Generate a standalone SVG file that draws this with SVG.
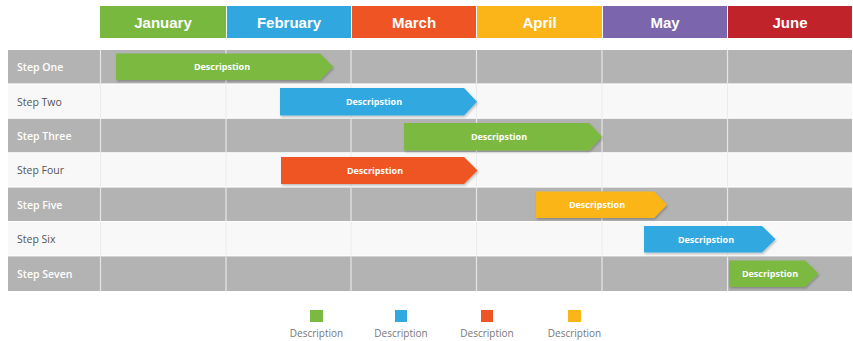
<svg xmlns="http://www.w3.org/2000/svg" width="853" height="341" viewBox="0 0 853 341">
<defs>
<style>
.hdr{font-family:"Liberation Sans",Arial,sans-serif;font-weight:bold;font-size:15px;fill:#fff;text-anchor:middle}
.lbl{font-family:"Open Sans","Noto Sans",sans-serif;font-size:10.5px}
.lblD{fill:#fff;font-weight:600}
.lblL{fill:#555}
.bt{font-family:"Open Sans","Noto Sans",sans-serif;font-size:9px;font-weight:bold;fill:#fff;text-anchor:middle}
.lg{font-family:"Open Sans","Noto Sans",sans-serif;font-size:10px;fill:#777;text-anchor:middle}
.gray{fill:#b3b3b3}
.light{fill:#f8f8f8}
.vd{stroke:#e6e6e6;stroke-width:1.2}
.vl{stroke:#ebebeb;stroke-width:1}
</style>
<filter id="sh" x="-5%" y="-20%" width="110%" height="150%">
<feDropShadow dx="1" dy="1.5" stdDeviation="1" flood-color="#000" flood-opacity="0.25"/>
</filter>
</defs>
<rect width="853" height="341" fill="#fff"/>

<g id="header">
<rect x="100" y="6" width="126" height="32" fill="#78b83f"/>
<rect x="227" y="6" width="124" height="32" fill="#31a7df"/>
<rect x="352" y="6" width="124" height="32" fill="#ee5424"/>
<rect x="477" y="6" width="125" height="32" fill="#fcb518"/>
<rect x="603" y="6" width="124" height="32" fill="#7b66ad"/>
<rect x="728" y="6" width="124" height="32" fill="#c1232a"/>
<text class="hdr" x="163" y="28">January</text>
<text class="hdr" x="289" y="28">February</text>
<text class="hdr" x="414" y="28">March</text>
<text class="hdr" x="539.5" y="28">April</text>
<text class="hdr" x="665" y="28">May</text>
<text class="hdr" x="790" y="28">June</text>
</g>

<g id="grid">
<rect class="gray" x="8" y="50" width="844" height="33.4"/>
<rect class="light" x="8" y="84.4" width="844" height="33.4"/>
<rect class="gray" x="8" y="118.8" width="844" height="33.4"/>
<rect class="light" x="8" y="153.2" width="844" height="33.4"/>
<rect class="gray" x="8" y="187.6" width="844" height="33.4"/>
<rect class="light" x="8" y="222" width="844" height="33.4"/>
<rect class="gray" x="8" y="256.4" width="844" height="34.6"/>
<g class="vd">
<path d="M100.5 50V83.4M226 50V83.4M351 50V83.4M476.5 50V83.4M602 50V83.4M727.5 50V83.4"/>
<path d="M100.5 118.8V152.2M226 118.8V152.2M351 118.8V152.2M476.5 118.8V152.2M602 118.8V152.2M727.5 118.8V152.2"/>
<path d="M100.5 187.6V221M226 187.6V221M351 187.6V221M476.5 187.6V221M602 187.6V221M727.5 187.6V221"/>
<path d="M100.5 256.4V291M226 256.4V291M351 256.4V291M476.5 256.4V291M602 256.4V291M727.5 256.4V291"/>
</g>
<g class="vl">
<path d="M100.5 84.4V117.8M226 84.4V117.8M351 84.4V117.8M476.5 84.4V117.8M602 84.4V117.8M727.5 84.4V117.8"/>
<path d="M100.5 153.2V186.6M226 153.2V186.6M351 153.2V186.6M476.5 153.2V186.6M602 153.2V186.6M727.5 153.2V186.6"/>
<path d="M100.5 222V255.4M226 222V255.4M351 222V255.4M476.5 222V255.4M602 222V255.4M727.5 222V255.4"/>
</g>
</g>

<g id="labels" class="lbl">
<text class="lblD" x="17" y="71">Step One</text>
<text class="lblL" x="17" y="105.5">Step Two</text>
<text class="lblD" x="17" y="140">Step Three</text>
<text class="lblL" x="17" y="174">Step Four</text>
<text class="lblD" x="17" y="208.5">Step Five</text>
<text class="lblL" x="17" y="243">Step Six</text>
<text class="lblD" x="17" y="277.5">Step Seven</text>
</g>

<g id="step1">
<polygon filter="url(#sh)" fill="#7cb940" points="116,53.5 320,53.5 333,66.8 320,80 116,80"/>
<text class="bt" x="222" y="70">Descripstion</text>
</g>
<g id="step2">
<polygon filter="url(#sh)" fill="#30a8e0" points="280,88 464,88 477,101.8 464,115.5 280,115.5"/>
<text class="bt" x="374" y="105">Descripstion</text>
</g>
<g id="step3">
<polygon filter="url(#sh)" fill="#7cb940" points="404,123 589,123 602,136.8 589,150.5 404,150.5"/>
<text class="bt" x="499" y="140">Descripstion</text>
</g>
<g id="step4">
<polygon filter="url(#sh)" fill="#ee5424" points="281,157 464,157 477.5,170.5 464,184 281,184"/>
<text class="bt" x="375" y="174">Descripstion</text>
</g>
<g id="step5">
<polygon filter="url(#sh)" fill="#fcb518" points="536,191.5 654,191.5 667,204.8 654,218 536,218"/>
<text class="bt" x="597" y="208">Descripstion</text>
</g>
<g id="step6">
<polygon filter="url(#sh)" fill="#30a8e0" points="644,226 762,226 775.5,239.3 762,252.5 644,252.5"/>
<text class="bt" x="706" y="242.5">Descripstion</text>
</g>
<g id="step7">
<polygon filter="url(#sh)" fill="#7cb940" points="729,260.5 805,260.5 818.5,273.8 805,287 729,287"/>
<text class="bt" x="770" y="277">Descripstion</text>
</g>

<g id="legend">
<rect x="310" y="310" width="13" height="12" fill="#7cb940"/>
<rect x="395" y="310" width="12" height="12" fill="#30a8e0"/>
<rect x="481" y="310" width="12" height="12" fill="#ee5424"/>
<rect x="568" y="310" width="13" height="12" fill="#fcb518"/>
<text class="lg" x="316.5" y="337">Description</text>
<text class="lg" x="401" y="337">Description</text>
<text class="lg" x="487" y="337">Description</text>
<text class="lg" x="574.5" y="337">Description</text>
</g>
</svg>
